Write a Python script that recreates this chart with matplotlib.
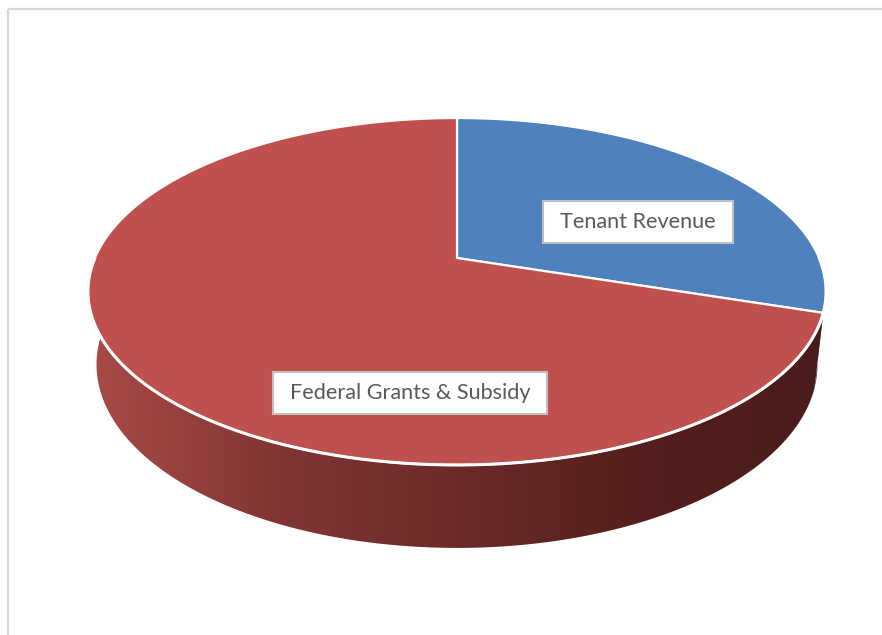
import numpy as np
import matplotlib
matplotlib.use("Agg")
import matplotlib.pyplot as plt
from matplotlib.patches import Polygon, Rectangle
from matplotlib.colors import LinearSegmentedColormap

# data
labels = ['Tenant Revenue', 'Federal Grants & Subsidy']
values = [30, 70]
top_colors = ['#4f81bd', '#c0504d']
side_stops = [['#3a5f8c', '#2c4a70'],
              ['#a94b47', '#823634', '#6b2a29', '#541f1e', '#4a1c1b']]
label_pos = [(638, 222), (410, 393)]

# perspective camera for the tilted pie (units: pie radius = 1)
x0, y0 = 457, 258
phi = np.arcsin(0.4612)
D = 4.595
f = 1664.0
h = 0.229


def proj(t, w):
    u, v = np.cos(t), np.sin(t)
    zc = D + v * np.cos(phi) - w * np.sin(phi)
    yc = v * np.sin(phi) + w * np.cos(phi)
    return x0 + f * u / zc, y0 - f * yc / zc


fig = plt.figure(figsize=(8.82, 6.35), dpi=100)
ax = fig.add_axes([0, 0, 1, 1])
ax.set_xlim(0, 882)
ax.set_ylim(635, 0)
ax.axis('off')

# chart frame (only left/top edges visible)
ax.add_patch(Rectangle((8, 9), 900, 700, fill=False, ec='#d9d9d9', lw=1.6))

# slice angles, start at 12 o'clock going clockwise
frac = np.array(values, float) / sum(values)
starts = np.pi / 2 - 2 * np.pi * np.concatenate([[0], np.cumsum(frac)[:-1]])
ends = starts - 2 * np.pi * frac

# side walls (front half only, angles pi..2pi)
for i in range(len(values)):
    seg_lo = ends[i] % (2 * np.pi)
    seg_hi = seg_lo + (starts[i] - ends[i])
    lo, hi = max(seg_lo, np.pi), min(seg_hi, 2 * np.pi)
    if lo >= hi:
        seg_lo -= 2 * np.pi
        seg_hi -= 2 * np.pi
        lo, hi = max(seg_lo, np.pi), min(seg_hi, 2 * np.pi)
    if lo >= hi:
        continue
    tt = np.linspace(lo, hi, 200)
    xt, yt = proj(tt, 0)
    xb, yb = proj(tt[::-1], -h)
    poly = Polygon(np.column_stack([np.r_[xt, xb], np.r_[yt, yb]]),
                   closed=True, fc='none', ec='none')
    ax.add_patch(poly)
    cmap = LinearSegmentedColormap.from_list('side%d' % i, side_stops[i])
    grad = np.linspace(0, 1, 256)[None, :]
    im = ax.imshow(grad, cmap=cmap, extent=(88, 826, 560, 250),
                   aspect='auto', interpolation='bilinear')
    im.set_clip_path(poly)

# front rim white line
tt = np.linspace(np.pi, 2 * np.pi, 300)
xr, yr = proj(tt, 0)
ax.plot(xr, yr, color='white', lw=2.2, solid_capstyle='round')

# top faces
for i in range(len(values)):
    tt = np.linspace(starts[i], ends[i], 300)
    xs, ys = proj(tt, 0)
    pts = np.column_stack([np.r_[x0, xs], np.r_[y0, ys]])
    ax.add_patch(Polygon(pts, closed=True, fc=top_colors[i], ec='white',
                         lw=1.6, joinstyle='round'))

# data labels with boxes
fig.canvas.draw()
rend = fig.canvas.get_renderer()
for (lx, ly), txt in zip(label_pos, labels):
    t = ax.text(lx, ly, txt, ha='center', va='center', fontsize=15.6,
                family='Lato', color='#595959', zorder=5)
    bb = t.get_window_extent(renderer=rend)
    w, hh = bb.width, 22
    ax.add_patch(Rectangle((lx - w / 2 - 17, ly - hh / 2 - 10), w + 34,
                           hh + 20, fc='white', ec='#bfbfbf', lw=1.5,
                           zorder=4))

fig.savefig('out.png', dpi=100)
